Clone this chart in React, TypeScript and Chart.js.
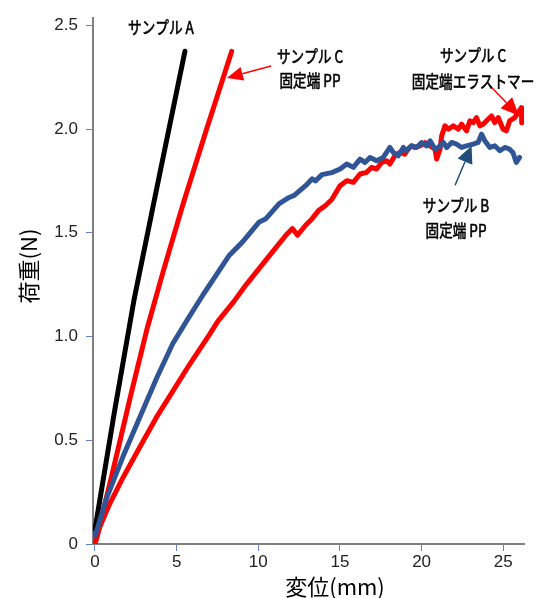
import { useEffect, useRef } from 'react';
import { Chart, registerables } from 'chart.js';

Chart.register(...registerables);

// ---- axes ----
const X_TICKS = [0, 5, 10, 15, 20, 25];
const Y_TICKS = [0, 0.5, 1.0, 1.5, 2.0, 2.5];
const Y_TICK_LABELS = ['0', '0.5', '1.0', '1.5', '2.0', '2.5'];
const X_RANGE = [-0.12, 26.27];
const Y_RANGE = [0, 2.534];
const X_TITLE = '変位(mm)';
const Y_TITLE = '荷重(N)';

// ---- series ----
const A_X = [0, 1.2, 2.4, 3.8, 5.51];
const A_Y = [0.07, 0.64, 1.18, 1.72, 2.375];

const C_PP_X = [0, 1.0, 2.2, 3.2, 4.2, 5.4, 6.8, 8.37];
const C_PP_Y = [0, 0.32, 0.72, 1.04, 1.32, 1.64, 1.99, 2.374];

const B_X = [0, 0.12, 0.73, 1.71, 2.74, 3.78, 4.76, 5.69, 6.61, 7.42, 8.23, 9.04, 10.06, 10.47, 11.28, 11.89, 12.2, 12.9, 13.3, 13.5, 13.9, 14.5,
  15.01, 15.42, 15.82, 16.23, 16.53, 16.84, 17.25, 17.65, 18.06, 18.26, 18.57, 18.88, 19.08, 19.39, 19.69, 20.0, 20.31, 20.52, 20.82, 21.02,
  21.33, 21.54, 21.84, 22.14, 22.45, 22.75, 23.16, 23.46, 23.67, 23.87, 24.18, 24.48, 24.79, 25.09, 25.39, 25.59, 25.8, 26.0];
const B_Y = [0.04, 0.067, 0.225, 0.42, 0.61, 0.80, 0.965, 1.085, 1.20, 1.296, 1.392, 1.456, 1.552, 1.568, 1.64, 1.67, 1.68, 1.727, 1.76, 1.75, 1.78, 1.79,
  1.807, 1.831, 1.815, 1.855, 1.839, 1.863, 1.847, 1.863, 1.911, 1.887, 1.871, 1.911, 1.895, 1.919, 1.911, 1.935, 1.919, 1.943, 1.903, 1.911,
  1.935, 1.911, 1.935, 1.927, 1.911, 1.919, 1.927, 1.935, 1.975, 1.943, 1.911, 1.919, 1.895, 1.911, 1.903, 1.887, 1.839, 1.863];

const C_EL_X = [0, 0.30, 0.91, 1.73, 2.74, 3.76, 4.77, 5.79, 7.01, 7.52, 8.5, 9.25, 10.06, 10.87, 11.69, 12.09, 12.4, 12.9, 13.3, 13.7, 14.1, 14.5,
  15.01, 15.42, 15.82, 16.23, 16.64, 16.94, 17.25, 17.55, 17.86, 18.06, 18.36, 18.67, 18.97, 19.17, 19.38, 19.58, 19.9, 20.21, 20.52, 20.82,
  20.92, 21.13, 21.23, 21.43, 21.64, 21.94, 22.25, 22.45, 22.75, 22.96, 23.16, 23.36, 23.57, 23.77, 24.07, 24.28, 24.48, 24.69, 24.99, 25.19,
  25.39, 25.7, 25.91, 26.11, 26.13];
const C_EL_Y = [0, 0.083, 0.195, 0.322, 0.466, 0.61, 0.737, 0.865, 1.009, 1.073, 1.168, 1.249, 1.328, 1.408, 1.488, 1.52, 1.488, 1.536, 1.568, 1.608, 1.63, 1.66,
  1.727, 1.751, 1.743, 1.783, 1.791, 1.815, 1.807, 1.839, 1.847, 1.831, 1.871, 1.887, 1.879, 1.903, 1.919, 1.911, 1.919, 1.935, 1.919, 1.903,
  1.855, 1.903, 1.967, 2.015, 1.999, 2.015, 1.999, 2.023, 1.991, 2.039, 2.031, 2.055, 2.015, 2.023, 2.047, 2.063, 2.031, 2.055, 1.999, 1.991,
  2.039, 2.055, 2.079, 2.103, 2.03];

// ---- annotations (data coordinates) ----
const LABELS = [
  { text: 'サンプル A', x: 4.04, y: 2.49 },
  { text: 'サンプル C', x: 13.17, y: 2.347 },
  { text: '固定端 PP', x: 13.17, y: 2.232 },
  { text: 'サンプル C', x: 23.15, y: 2.352 },
  { text: '固定端エラストマー', x: 23.15, y: 2.227 },
  { text: 'サンプル B', x: 22.11, y: 1.633 },
  { text: '固定端 PP', x: 22.11, y: 1.513 },
];
const ARROWS = [
  { x1: 10.78, y1: 2.304, x2: 8.08, y2: 2.246, color: '#ff0000', head: 16, half: 7 },
  { x1: 24.19, y1: 2.208, x2: 25.96, y2: 2.064, color: '#ff0000', head: 18, half: 8 },
  { x1: 22.05, y1: 1.729, x2: 23.06, y2: 1.918, color: '#1f4e79', head: 17, half: 8 },
];

const pts = (xs: number[], ys: number[]) => xs.map((x, i) => ({ x, y: ys[i] }));

const annotPlugin = {
  id: 'annot',
  afterDatasetsDraw(chart: any) {
    const { ctx, scales } = chart;
    const sx = scales.x, sy = scales.y;
    ctx.save();
    ARROWS.forEach((a) => {
      const px1 = sx.getPixelForValue(a.x1), py1 = sy.getPixelForValue(a.y1);
      const px2 = sx.getPixelForValue(a.x2), py2 = sy.getPixelForValue(a.y2);
      const ang = Math.atan2(py2 - py1, px2 - px1);
      const bx = px2 - Math.cos(ang) * a.head, by = py2 - Math.sin(ang) * a.head;
      ctx.strokeStyle = a.color;
      ctx.fillStyle = a.color;
      ctx.lineWidth = 1.5;
      ctx.beginPath();
      ctx.moveTo(px1, py1);
      ctx.lineTo(bx, by);
      ctx.stroke();
      ctx.beginPath();
      ctx.moveTo(px2, py2);
      ctx.lineTo(bx + Math.sin(ang) * a.half, by - Math.cos(ang) * a.half);
      ctx.lineTo(bx - Math.sin(ang) * a.half, by + Math.cos(ang) * a.half);
      ctx.closePath();
      ctx.fill();
    });
    ctx.fillStyle = '#000';
    ctx.strokeStyle = '#000';
    ctx.lineWidth = 0.6;
    ctx.textAlign = 'center';
    ctx.textBaseline = 'middle';
    ctx.font = '17px "Noto Sans CJK JP"';
    LABELS.forEach((l) => {
      ctx.save();
      ctx.translate(sx.getPixelForValue(l.x), sy.getPixelForValue(l.y));
      ctx.scale(0.8, 1);
      ctx.fillText(l.text, 0, 0);
      ctx.strokeText(l.text, 0, 0);
      ctx.restore();
    });
    // axis titles
    ctx.font = '22px "Noto Sans CJK JP"';
    ctx.fillText(X_TITLE, 335, 587);
    ctx.save();
    ctx.translate(29, 266);
    ctx.rotate(-Math.PI / 2);
    ctx.fillText(Y_TITLE, 0, 0);
    ctx.restore();
    ctx.restore();
  },
};

export default function App() {
  const ref = useRef<HTMLCanvasElement>(null);
  useEffect(() => {
    if (!ref.current) return;
    const common = { borderWidth: 5, pointRadius: 0, tension: 0, fill: false, borderCapStyle: 'round', borderJoinStyle: 'round' };
    const chart = new Chart(ref.current, {
      type: 'line',
      data: {
        datasets: [
          { ...common, label: 'サンプル B 固定端 PP', data: pts(B_X, B_Y), borderColor: '#2f5597' },
          { ...common, label: 'サンプル C 固定端エラストマー', data: pts(C_EL_X, C_EL_Y), borderColor: '#ff0000' },
          { ...common, label: 'サンプル C 固定端 PP', data: pts(C_PP_X, C_PP_Y), borderColor: '#ff0000' },
          { ...common, label: 'サンプル A', data: pts(A_X, A_Y), borderColor: '#000000' },
        ] as any,
      },
      options: {
        animation: false,
        responsive: false,
        layout: { padding: { top: 15, right: 12, left: 0, bottom: 0 } },
        plugins: { legend: { display: false }, tooltip: { enabled: false } },
        scales: {
          x: {
            type: 'linear',
            min: X_RANGE[0],
            max: X_RANGE[1],
            afterBuildTicks: (s: any) => { s.ticks = X_TICKS.map((v) => ({ value: v })); },
            afterFit: (s: any) => { s.height = 54; },
            grid: { drawOnChartArea: false, drawTicks: true, tickLength: 7, tickColor: '#5b86cf', tickWidth: 1 },
            border: { display: true, color: '#808080', width: 2 },
            ticks: { padding: 1, color: '#222', font: { family: '"Liberation Sans", Arial', size: 17 }, callback: (v: any) => String(v), maxRotation: 0 },
          },
          y: {
            type: 'linear',
            min: Y_RANGE[0],
            max: Y_RANGE[1],
            afterBuildTicks: (s: any) => { s.ticks = Y_TICKS.map((v) => ({ value: v })); },
            afterFit: (s: any) => { s.width = 93; },
            grid: { drawOnChartArea: false, drawTicks: true, tickLength: 7, tickColor: '#5b86cf', tickWidth: 1 },
            border: { display: true, color: '#808080', width: 2 },
            ticks: { padding: 8, color: '#222', font: { family: '"Liberation Sans", Arial', size: 17 }, callback: (_v: any, i: number) => Y_TICK_LABELS[i] },
          },
        },
      } as any,
      plugins: [annotPlugin],
    });
    return () => chart.destroy();
  }, []);
  return (
    <div style={{ position: 'absolute', left: 0, top: 0, width: 536, height: 598, background: '#fff' }}>
      <canvas ref={ref} width={536} height={598} />
    </div>
  );
}
